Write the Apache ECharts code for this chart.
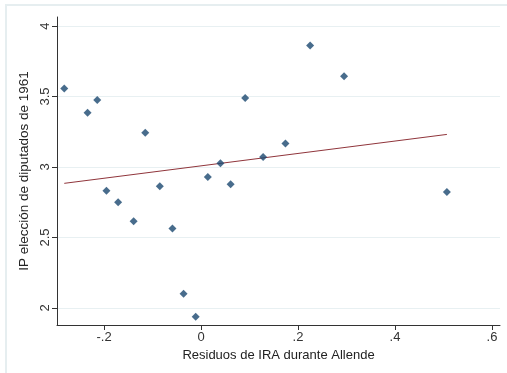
<!DOCTYPE html>
<html>
<head>
<meta charset="utf-8">
<script src="https://cdn.jsdelivr.net/npm/echarts@6/dist/echarts.min.js"></script>
<style>
html, body { margin: 0; padding: 0; background: #fff; }
#main { width: 507px; height: 373px; }
</style>
</head>
<body>
<div id="main"></div>
<script>
// puntos: residuos de IRA vs IP 1961
var resX = [-0.282, -0.234, -0.214, -0.115, 0.091, 0.040, 0.014, 0.061, -0.085, -0.195,
            -0.171, -0.139, -0.059, -0.036, -0.011, 0.225, 0.295, 0.174, 0.128, 0.507];
var ipY = [3.556, 3.385, 3.475, 3.242, 3.489, 3.026, 2.929, 2.877, 2.863, 2.832,
           2.749, 2.615, 2.563, 2.100, 1.937, 3.862, 3.644, 3.167, 3.071, 2.822];

// recta ajustada
var fitX = [-0.282, 0.507];
var fitY = [2.884, 3.231];

var xTicks = [-0.2, 0, 0.2, 0.4, 0.6];
var yTicks = [2, 2.5, 3, 3.5, 4];

var pts = resX.map(function (v, i) { return [v, ipY[i]]; });
var fit = fitX.map(function (v, i) { return [v, fitY[i]]; });

function stataNum(v) {
    var s = String(Math.round(v * 10) / 10);
    return s.replace(/^0\./, '.').replace(/^-0\./, '-.');
}

var font = 'Liberation Sans, Arial, sans-serif';
var chart = echarts.init(document.getElementById('main'));
var option = {
    animation: false,
    backgroundColor: '#fff',
    graphic: [{
        type: 'rect',
        shape: { x: 6, y: 5, width: 520, height: 400 },
        style: { fill: 'none', stroke: '#e6eef0', lineWidth: 2 },
        silent: true
    }],
    grid: { left: 57, right: 7, top: 17, bottom: 48 },
    xAxis: {
        type: 'value',
        min: -0.297,
        max: 0.6165,
        name: 'Residuos de IRA durante Allende',
        nameLocation: 'middle',
        nameGap: 19,
        nameTextStyle: { fontFamily: font, fontSize: 13, color: '#222' },
        axisLine: { show: true, onZero: false, lineStyle: { color: '#333', width: 1 } },
        axisTick: { show: true, length: 5, customValues: xTicks, lineStyle: { color: '#333' } },
        axisLabel: {
            customValues: xTicks,
            formatter: stataNum,
            fontFamily: font, fontSize: 13, color: '#333', margin: 6
        },
        splitLine: { show: false }
    },
    yAxis: {
        type: 'value',
        min: 1.879,
        max: 4.064,
        name: 'IP elección de diputados de 1961',
        nameLocation: 'middle',
        nameRotate: 90,
        nameGap: 18,
        nameTextStyle: { fontFamily: font, fontSize: 13.5, color: '#222' },
        axisLine: { show: true, onZero: false, lineStyle: { color: '#333', width: 1 } },
        axisTick: { show: true, length: 5, customValues: yTicks, lineStyle: { color: '#333' } },
        axisLabel: {
            customValues: yTicks,
            formatter: function (v) { return String(v); },
            rotate: 90,
            fontFamily: font, fontSize: 13, color: '#333', margin: 5
        },
        splitLine: { show: true, lineStyle: { color: '#e8f0f2', width: 1 } }
    },
    series: [
        {
            type: 'scatter',
            data: pts,
            symbol: 'diamond',
            symbolSize: 8,
            itemStyle: { color: '#1a476f' },
            z: 3
        },
        {
            type: 'line',
            data: fit,
            symbol: 'none',
            lineStyle: { color: '#90353b', width: 1 },
            z: 2
        }
    ]
};
chart.setOption(option);
</script>
</body>
</html>
